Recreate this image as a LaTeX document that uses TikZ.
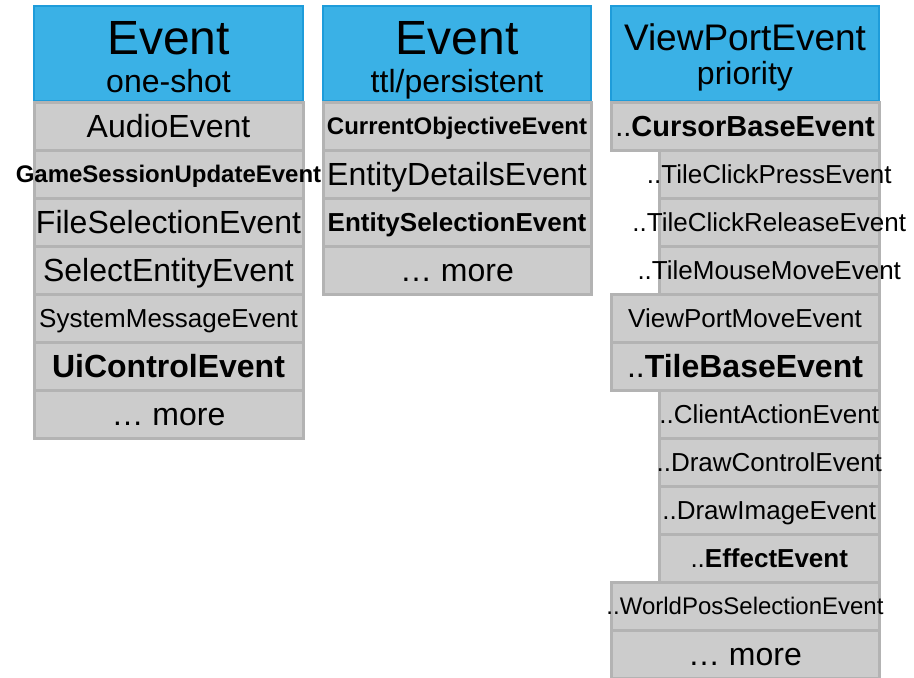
\documentclass[tikz,border=0pt]{standalone}
\usepackage{fontspec}
\setmainfont{Liberation Sans}
\definecolor{headblue}{HTML}{3AB1E6}
\definecolor{headline}{HTML}{1E9CDA}
\definecolor{cellfill}{HTML}{CCCCCC}
\definecolor{cellline}{HTML}{B3B3B3}
\tikzset{
  cellbox/.style={rectangle, draw=cellline, fill=cellfill, line width=3pt,
    inner sep=0pt, minimum height=48pt},
  wide/.style={cellbox, minimum width=269pt},
  narrow/.style={cellbox, minimum width=219.5pt},
  headbox/.style={rectangle, draw=headline, fill=headblue, line width=1.5pt,
    inner sep=0pt, minimum width=269pt, minimum height=95pt},
  lbl/.style={inner sep=0pt, text depth=0pt},
  f24/.style={lbl, font=\fontsize{24}{24}\selectfont, text height=16.5pt},
  f26/.style={lbl, font=\fontsize{26}{26}\selectfont, text height=17.9pt},
  f29/.style={lbl, font=\fontsize{29}{29}\selectfont, text height=20pt},
  f32/.style={lbl, font=\fontsize{32}{32}\selectfont, text height=22pt},
  htitle/.style={inner sep=0pt, anchor=base, font=\fontsize{48}{48}\selectfont},
  hviewtitle/.style={inner sep=0pt, anchor=base, font=\fontsize{37}{37}\selectfont},
  hsub/.style={inner sep=0pt, anchor=base, font=\fontsize{32}{32}\selectfont},
}
\begin{document}
\begin{tikzpicture}[x=1pt, y=-1pt]
\useasboundingbox (0,0) rectangle (914,678);
\clip (0,0) rectangle (914,678);

% ---------- column 1: one-shot events ----------
\node[headbox] (h1) at (168.5,53.5) {};
\node[htitle] (h1t) at (168.5,54) {Event};
\node[hsub] (h1s) at (168.5,92) {one-shot};
\node[wide] (a0) at (168.5,126.5) {};
\node[f32] (a0l) at (a0) {AudioEvent};
\node[wide] (a1) at (168.5,174.5) {};
\node[f24] (a1l) at (a1) {\textbf{GameSessionUpdateEvent}};
\node[wide] (a2) at (168.5,222.5) {};
\node[f32] (a2l) at (a2) {FileSelectionEvent};
\node[wide] (a3) at (168.5,270.5) {};
\node[f32] (a3l) at (a3) {SelectEntityEvent};
\node[wide] (a4) at (168.5,318.5) {};
\node[f26] (a4l) at (a4) {SystemMessageEvent};
\node[wide] (a5) at (168.5,366.5) {};
\node[f32] (a5l) at (a5) {\textbf{UiControlEvent}};
\node[wide] (a6) at (168.5,414.5) {};
\node[f32] (a6l) at (a6) {… more};

% ---------- column 2: ttl / persistent events ----------
\node[headbox, minimum width=268pt] (h2) at (457,53.5) {};
\node[htitle] (h2t) at (457,54) {Event};
\node[hsub] (h2s) at (457,92) {ttl/persistent};
\node[wide, minimum width=268pt] (b0) at (457,126.5) {};
\node[f24] (b0l) at (b0) {\textbf{CurrentObjectiveEvent}};
\node[wide, minimum width=268pt] (b1) at (457,174.5) {};
\node[f32] (b1l) at (b1) {EntityDetailsEvent};
\node[wide, minimum width=268pt] (b2) at (457,222.5) {};
\node[f26] (b2l) at (b2) {\textbf{EntitySelectionEvent}};
\node[wide, minimum width=268pt] (b3) at (457,270.5) {};
\node[f32] (b3l) at (b3) {… more};

% ---------- column 3: view port events by priority ----------
\node[headbox, minimum width=268pt] (h3) at (745,53.5) {};
\node[hviewtitle] (h3t) at (745,50) {ViewPortEvent};
\node[hsub] (h3s) at (745,84) {priority};
\node[wide, minimum width=268pt] (c0) at (745,126.5) {};
\node[f29] (c0l) at (c0) {..\textbf{CursorBaseEvent}};
\node[narrow] (c1) at (769.25,174.5) {};
\node[f26] (c1l) at (c1) {..TileClickPressEvent};
\node[narrow] (c2) at (769.25,222.5) {};
\node[f26] (c2l) at (c2) {..TileClickReleaseEvent};
\node[narrow] (c3) at (769.25,270.5) {};
\node[f26] (c3l) at (c3) {..TileMouseMoveEvent};
\node[wide, minimum width=268pt] (c4) at (745,318.5) {};
\node[f26] (c4l) at (c4) {ViewPortMoveEvent};
\node[wide, minimum width=268pt] (c5) at (745,366.5) {};
\node[f32] (c5l) at (c5) {..\textbf{TileBaseEvent}};
\node[narrow] (c6) at (769.25,414.5) {};
\node[f26] (c6l) at (c6) {..ClientActionEvent};
\node[narrow] (c7) at (769.25,462.5) {};
\node[f26] (c7l) at (c7) {..DrawControlEvent};
\node[narrow] (c8) at (769.25,510.5) {};
\node[f26] (c8l) at (c8) {..DrawImageEvent};
\node[narrow] (c9) at (769.25,558.5) {};
\node[f26] (c9l) at (c9) {..\textbf{EffectEvent}};
\node[wide, minimum width=268pt] (c10) at (745,606.5) {};
\node[f24] (c10l) at (c10) {..WorldPosSelectionEvent};
\node[wide, minimum width=268pt] (c11) at (745,654.5) {};
\node[f32] (c11l) at (c11) {… more};
\end{tikzpicture}
\end{document}
